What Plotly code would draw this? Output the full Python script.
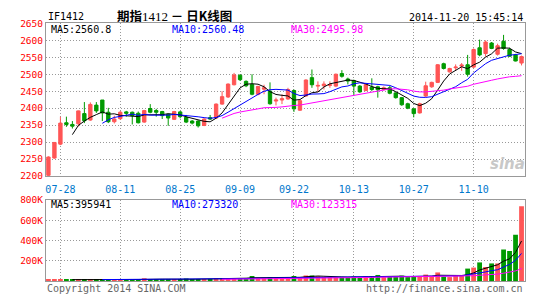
import plotly.graph_objects as go
import pandas as pd

# ---------------- data ----------------
dates = ["07-24", "07-25", "07-28", "07-29", "07-30", "07-31", "08-01", "08-04", "08-05", "08-06",
         "08-07", "08-08", "08-11", "08-12", "08-13", "08-14", "08-15", "08-18", "08-19", "08-20",
         "08-21", "08-22", "08-25", "08-26", "08-27", "08-28", "08-29", "09-01", "09-02", "09-03",
         "09-04", "09-05", "09-09", "09-10", "09-11", "09-12", "09-15", "09-16", "09-17", "09-18",
         "09-19", "09-22", "09-23", "09-24", "09-25", "09-26", "09-29", "09-30", "10-08", "10-09",
         "10-10", "10-13", "10-14", "10-15", "10-16", "10-17", "10-20", "10-21", "10-22", "10-23",
         "10-24", "10-27", "10-28", "10-29", "10-30", "10-31", "11-03", "11-04", "11-05", "11-06",
         "11-07", "11-10", "11-11", "11-12", "11-13", "11-14", "11-17", "11-18", "11-19", "11-20"]

tick_labels = ["07-28", "08-11", "08-25", "09-09", "09-22", "10-13", "10-27", "11-10"]

open_ = [2202, 2253, 2294, 2357, 2352, 2354, 2384, 2365, 2409, 2424,
         2388, 2360, 2369, 2389, 2388, 2385, 2359, 2399, 2393, 2390,
         2382, 2367, 2389, 2373, 2362, 2362, 2349, 2372, 2371, 2412,
         2433, 2469, 2497, 2479, 2470, 2441, 2456, 2450, 2421, 2424,
         2427, 2452, 2394, 2436, 2490, 2465, 2466, 2467, 2465, 2502,
         2486, 2481, 2465, 2452, 2462, 2463, 2455, 2460, 2445, 2431,
         2413, 2398, 2386, 2436, 2463, 2476, 2531, 2507, 2519, 2524,
         2528, 2521, 2578, 2561, 2592, 2559, 2597, 2573, 2557, 2533]

close = [2256, 2299, 2356, 2352, 2347, 2392, 2363, 2411, 2392, 2386,
         2360, 2368, 2388, 2385, 2378, 2357, 2393, 2388, 2388, 2378,
         2371, 2390, 2375, 2359, 2356, 2348, 2368, 2368, 2412, 2434,
         2471, 2498, 2484, 2466, 2441, 2464, 2460, 2413, 2424, 2428,
         2455, 2398, 2422, 2483, 2469, 2467, 2471, 2469, 2500, 2494,
         2480, 2465, 2448, 2470, 2455, 2454, 2460, 2444, 2431, 2410,
         2400, 2384, 2413, 2466, 2476, 2528, 2517, 2517, 2521, 2527,
         2500, 2573, 2557, 2595, 2576, 2584, 2576, 2553, 2539, 2552]

high = [2258, 2300, 2375, 2375, 2362, 2393, 2418, 2417, 2418, 2424,
        2401, 2378, 2392, 2392, 2390, 2390, 2395, 2412, 2398, 2392,
        2384, 2392, 2392, 2380, 2365, 2364, 2370, 2380, 2414, 2450,
        2473, 2504, 2500, 2482, 2500, 2466, 2469, 2476, 2431, 2441,
        2460, 2455, 2424, 2485, 2514, 2479, 2479, 2479, 2502, 2512,
        2490, 2484, 2468, 2472, 2488, 2466, 2464, 2466, 2447, 2433,
        2416, 2400, 2416, 2478, 2478, 2530, 2534, 2519, 2529, 2533,
        2557, 2576, 2602, 2600, 2595, 2590, 2616, 2578, 2560, 2555]

low = [2200, 2251, 2291, 2345, 2340, 2346, 2356, 2363, 2386, 2362,
       2356, 2355, 2365, 2375, 2352, 2355, 2357, 2385, 2375, 2368,
       2348, 2365, 2370, 2356, 2352, 2343, 2347, 2365, 2368, 2410,
       2430, 2467, 2480, 2462, 2438, 2438, 2441, 2410, 2408, 2412,
       2425, 2389, 2392, 2434, 2460, 2447, 2455, 2460, 2462, 2490,
       2470, 2438, 2445, 2450, 2450, 2431, 2452, 2441, 2428, 2407,
       2397, 2373, 2384, 2433, 2460, 2474, 2514, 2505, 2510, 2510,
       2493, 2518, 2553, 2552, 2574, 2555, 2572, 2552, 2538, 2526]

volume = [13000, 13000, 21000, 12000, 10000, 10000, 16000, 16000, 16000, 16000,
          16000, 16000, 16000, 12000, 16000, 16000, 28000, 16000, 16000, 16000,
          16000, 16000, 16000, 25000, 18000, 18000, 18000, 18000, 28000, 28000,
          28000, 28000, 28000, 28000, 50000, 28000, 28000, 39000, 28000, 28000,
          39000, 50000, 39000, 55000, 55000, 48000, 39000, 39000, 39000, 39000,
          39000, 44000, 31000, 47000, 50000, 60000, 39000, 44000, 44000, 53000,
          39000, 44000, 44000, 64000, 50000, 85000, 44000, 39000, 50000, 56000,
          123000, 133000, 184000, 139000, 174000, 174000, 312000, 297000, 457000, 740000]

ma_periods = [5, 10, 30]
ma_colors = ["#000000", "#0000ff", "#ff00ff"]
# values printed in the chart's MA legends
price_ma_labels = ["MA5:2560.8", "MA10:2560.48", "MA30:2495.98"]
volume_ma_labels = ["MA5:395941", "MA10:273320", "MA30:123315"]

# ---------------- figure ----------------
W, H = 540, 300
def px(x):
    return x / W
def py(y):
    return 1 - y / H

RED = "#ff5555"
GREEN = "#009a00"
MONO = "DejaVu Sans Mono"

k = list(range(len(dates)))
close_s = pd.Series(close, dtype=float)
vol_s = pd.Series(volume, dtype=float)

fig = go.Figure()

fig.add_trace(go.Candlestick(
    x=k, open=open_, high=high, low=low, close=close,
    increasing=dict(line=dict(color=RED, width=1), fillcolor=RED),
    decreasing=dict(line=dict(color=GREEN, width=1), fillcolor=GREEN),
    whiskerwidth=0, showlegend=False, hoverinfo="skip",
    xaxis="x", yaxis="y"))

for p, c in zip(ma_periods, ma_colors):
    ma = close_s.rolling(p).mean()
    fig.add_trace(go.Scatter(x=k, y=ma, mode="lines", line=dict(color=c, width=1),
                             showlegend=False, hoverinfo="skip", xaxis="x", yaxis="y"))

bar_colors = [RED if c >= o else GREEN for o, c in zip(open_, close)]
fig.add_trace(go.Bar(x=k, y=volume, marker=dict(color=bar_colors, line=dict(width=0)),
                     width=0.8, showlegend=False, hoverinfo="skip", xaxis="x2", yaxis="y2"))

for p, c in zip(ma_periods, ma_colors):
    ma = vol_s.rolling(p).mean()
    fig.add_trace(go.Scatter(x=k, y=ma, mode="lines", line=dict(color=c, width=1),
                             showlegend=False, hoverinfo="skip", xaxis="x2", yaxis="y2"))

tickvals = [dates.index(t) for t in tick_labels]
xrange_ = [-0.42, 79.5]
xdom = [px(45), px(524.5)]
grid = dict(showgrid=True, gridcolor="#999999", gridwidth=1, griddash="1px,2px",
            showline=True, linecolor="#999999", linewidth=1, mirror=True,
            zeroline=False, ticks="", fixedrange=True)

fig.update_layout(
    width=W, height=H, margin=dict(l=0, r=0, t=0, b=0),
    paper_bgcolor="white", plot_bgcolor="white",
    boxgap=0.2, bargap=0.2, showlegend=False,
    xaxis=dict(domain=xdom, range=xrange_, tickmode="array", tickvals=tickvals,
               ticktext=tick_labels, tickfont=dict(family=MONO, size=10, color="#0077cc"),
               ticklabelstandoff=4,
               rangeslider=dict(visible=False), anchor="y", **grid),
    yaxis=dict(domain=[py(176.5), py(18)], range=[2200, 2650],
               tickmode="array", tickvals=list(range(2200, 2651, 50)),
               tickfont=dict(family=MONO, size=9.5, color="#ff0000"), anchor="x", **grid),
    xaxis2=dict(domain=xdom, range=xrange_, tickmode="array", tickvals=tickvals,
                showticklabels=False, anchor="y2", **grid),
    yaxis2=dict(domain=[py(285.5), py(201.5)], range=[0, 800000],
                tickmode="array", tickvals=[200000, 400000, 600000, 800000],
                ticktext=["200K", "400K", "600K", "800K"],
                tickfont=dict(family=MONO, size=9.5, color="#ff0000"), anchor="x2", **grid),
)

def note(text, x, y, xanchor="left", color="#000000", size=10, family=MONO):
    fig.add_annotation(text=text, x=px(x), y=py(y), xref="paper", yref="paper",
                       xanchor=xanchor, yanchor="middle", showarrow=False,
                       font=dict(family=family, size=size, color=color))

note("IF1412", 45, 11, size=10)
note("<b>期指</b><span style='font-family:Liberation Serif;font-size:13px'>1412</span>"
     " <b>－</b> <b>日</b><b>K</b><b>线图</b>",
     114, 10, size=12.5, family="Noto Sans CJK SC")
note("2014-11-20 15:45:14", 525, 12, xanchor="right", size=10)

label_x = [48, 169, 289]
for lx, txt, c in zip(label_x, price_ma_labels, ma_colors):
    note(txt, lx, 24, color=c)
for lx, txt, c in zip(label_x, volume_ma_labels, ma_colors):
    note(txt, lx, 206, color=c)

note("<b><i>sina</i></b>", 507, 164, xanchor="center", color="#c8c8c8", size=15,
     family="DejaVu Sans")

note("Copyright 2014 SINA.COM", 44, 293, color="#666666")
note("http://finance.sina.com.cn", 525, 293, xanchor="right", color="#666666")

fig.write_html("out.html")
